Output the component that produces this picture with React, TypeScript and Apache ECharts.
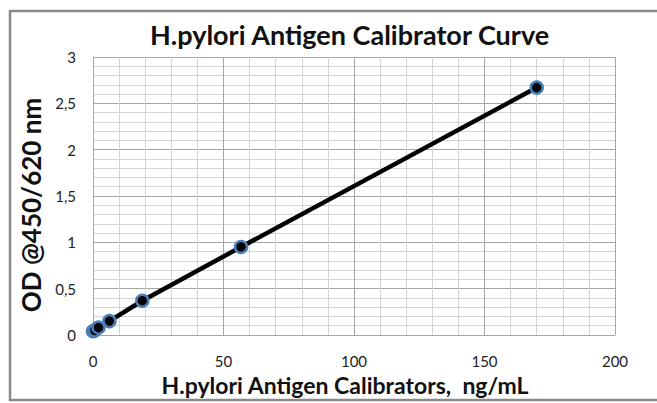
import React, { useEffect, useRef } from "react";
import * as echarts from "echarts";

const concentrations = [0, 0.7, 2.1, 6.3, 18.9, 56.7, 170];
const odValues = [0.04, 0.05, 0.08, 0.15, 0.37, 0.95, 2.67];
const titleText = "H.pylori Antigen Calibrator Curve";
const xAxisTitle = "H.pylori Antigen Calibrators,  ng/mL";
const yAxisTitle = "OD @450/620 nm";

const FONT = "Lato, 'Open Sans', sans-serif";

export default function App() {
  const ref = useRef<HTMLDivElement>(null);
  useEffect(() => {
    if (!ref.current) return;
    const chart = echarts.init(ref.current, null, { renderer: "svg" });
    const data = concentrations.map((c, i) => [c, odValues[i]]);
    chart.setOption({
      animation: false,
      backgroundColor: "#ffffff",
      title: {
        text: titleText,
        left: 145,
        top: 16,
        textStyle: { fontFamily: FONT, fontWeight: "bold", fontSize: 27, color: "#111" },
      },
      graphic: [
        {
          type: "rect",
          shape: { x: 10, y: 11, width: 660, height: 389 },
          style: { fill: "none", stroke: "#8a8a8a", lineWidth: 2.5 },
          silent: true,
        },
      ],
      grid: { left: 93, right: 42, top: 57, bottom: 68 },
      xAxis: {
        type: "value",
        min: 0,
        max: 200,
        interval: 50,
        name: xAxisTitle,
        nameLocation: "middle",
        nameGap: 38,
        nameTextStyle: {
          fontFamily: FONT,
          fontWeight: "bold",
          fontSize: 23,
          color: "#111",
          padding: [0, 18, 0, 0],
        },
        axisLine: { show: true, lineStyle: { color: "#a6a6a6", width: 1 } },
        axisTick: { show: false },
        axisLabel: { fontFamily: FONT, fontSize: 15, color: "#222", margin: 18 },
        splitLine: { show: true, lineStyle: { color: "#a6a6a6", width: 1 } },
        minorTick: { show: false, splitNumber: 5 },
        minorSplitLine: { show: true, lineStyle: { color: "#d4d4d4", width: 1 } },
      },
      yAxis: {
        type: "value",
        min: 0,
        max: 3,
        interval: 0.5,
        name: yAxisTitle,
        nameLocation: "middle",
        nameGap: 46,
        nameTextStyle: {
          fontFamily: FONT,
          fontWeight: "bold",
          fontSize: 26,
          color: "#111",
          padding: [0, 18, 0, 0],
        },
        axisLine: { show: true, lineStyle: { color: "#a6a6a6", width: 1 } },
        axisTick: { show: false },
        axisLabel: {
          fontFamily: FONT,
          fontSize: 15,
          color: "#222",
          margin: 17,
          formatter: (v: number) => String(v).replace(".", ","),
        },
        splitLine: { show: true, lineStyle: { color: "#a6a6a6", width: 1 } },
        minorTick: { show: false, splitNumber: 5 },
        minorSplitLine: { show: true, lineStyle: { color: "#d4d4d4", width: 1 } },
      },
      series: [
        {
          type: "line",
          data,
          symbol: "circle",
          symbolSize: 12,
          lineStyle: { color: "#000", width: 4.5 },
          itemStyle: { color: "#000", borderColor: "#4a7ebb", borderWidth: 2.5 },
          z: 3,
        },
      ],
    });
    return () => chart.dispose();
  }, []);
  return <div ref={ref} style={{ width: 657, height: 403, position: "absolute", left: 0, top: 0 }} />;
}
